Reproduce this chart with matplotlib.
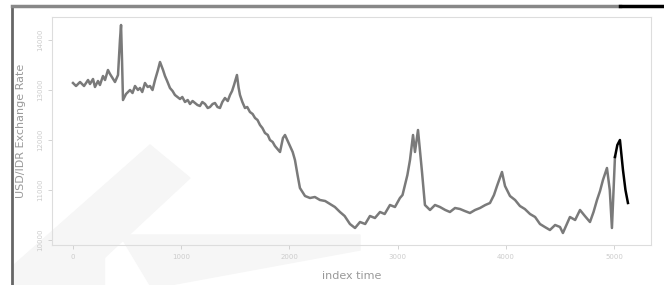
import matplotlib
matplotlib.use("Agg")
from matplotlib import pyplot as plt
from matplotlib.patches import Polygon
from matplotlib.lines import Line2D

# index time and USD/IDR rate
index_time = [0, 28, 65, 102, 139, 157, 185, 203, 231, 249, 277, 296, 323, 342, 370, 388,
              416, 434, 444, 453, 462, 490, 527, 550, 573, 600, 619, 640, 665, 690, 711, 735,
              758, 785, 804, 832, 850, 870, 896, 920, 942, 965, 989, 1010, 1035, 1060, 1081,
              1105, 1127, 1150, 1173, 1195, 1220, 1245, 1266, 1290, 1312, 1335, 1358, 1380,
              1404, 1430, 1451, 1470, 1488, 1515, 1530, 1543, 1565, 1589, 1610, 1635, 1660,
              1682, 1705, 1728, 1750, 1774, 1800, 1820, 1845, 1866, 1890, 1913, 1940, 1959,
              1980, 2005, 2030, 2051, 2075, 2097, 2120, 2144, 2190, 2235, 2282, 2330, 2375,
              2420, 2467, 2510, 2559, 2606, 2652, 2700, 2744, 2790, 2837, 2880, 2929, 2975,
              3021, 3045, 3068, 3090, 3114, 3142, 3160, 3188, 3225, 3252, 3299, 3345, 3391,
              3440, 3483, 3530, 3576, 3620, 3668, 3715, 3761, 3810, 3853, 3890, 3918, 3964,
              3992, 4038, 4085, 4130, 4175, 4223, 4270, 4315, 4360, 4407, 4455, 4500, 4527,
              4560, 4592, 4640, 4685, 4730, 4777, 4810, 4842, 4870, 4897, 4934, 4960, 4980,
              5008]
rate = [13140, 13080, 13160, 13080, 13200, 13120, 13220, 13060, 13180, 13100, 13280, 13200,
        13400, 13320, 13220, 13160, 13300, 14000, 14300, 13600, 12800, 12920, 13000, 12940,
        13080, 13000, 13040, 12960, 13140, 13060, 13080, 13000, 13200, 13400, 13560, 13400,
        13280, 13180, 13040, 12980, 12900, 12860, 12820, 12860, 12760, 12800, 12720, 12780,
        12740, 12700, 12680, 12760, 12720, 12640, 12660, 12720, 12740, 12660, 12640, 12760,
        12840, 12780, 12900, 12980, 13100, 13300, 13050, 12900, 12760, 12640, 12660, 12560,
        12520, 12440, 12400, 12300, 12240, 12140, 12100, 12000, 11960, 11880, 11820, 11760,
        12040, 12100, 12000, 11880, 11760, 11600, 11300, 11040, 10960, 10880, 10840, 10860,
        10800, 10780, 10720, 10660, 10560, 10480, 10320, 10240, 10360, 10320, 10480, 10440,
        10560, 10520, 10700, 10660, 10840, 10900, 11100, 11300, 11600, 12100, 11760, 12200,
        11360, 10700, 10600, 10700, 10660, 10600, 10560, 10640, 10620, 10580, 10540, 10600,
        10640, 10700, 10740, 10900, 11080, 11360, 11080, 10880, 10800, 10680, 10620, 10520,
        10460, 10320, 10260, 10200, 10300, 10260, 10140, 10300, 10460, 10400, 10600, 10480,
        10360, 10560, 10800, 10980, 11200, 11440, 11000, 10240, 11660]
# last stretch drawn in black
index_tail = [5008, 5030, 5054, 5068, 5082, 5105, 5128]
rate_tail = [11660, 11900, 12000, 11700, 11400, 11000, 10740]

x_ticks = [0, 1000, 2000, 3000, 4000, 5000]
y_ticks = [10000, 11000, 12000, 13000, 14000]

fig = plt.figure(figsize=(6.64, 2.85), dpi=100)
W, H = 664, 285

def px(x, y):
    return (x / W, 1 - y / H)

# faint watermark shapes
for pts in [[(14, 285), (14, 265), (150, 145), (190, 178), (75, 285)],
            [(120, 235), (360, 235), (360, 250), (170, 285), (150, 285)],
            [(68, 250), (104, 250), (104, 285), (68, 285)]]:
    fig.patches.append(Polygon([px(*p) for p in pts], closed=True, transform=fig.transFigure,
                               color="#f6f6f6", zorder=-1))

# page frame lines
fig.lines.append(Line2D([12 / W, 12 / W], [1 - 6 / H, 0], transform=fig.transFigure, color="#666666", lw=2))
fig.lines.append(Line2D([12 / W, 620 / W], [1 - 6 / H, 1 - 6 / H], transform=fig.transFigure, color="#888888", lw=2.5))
fig.lines.append(Line2D([620 / W, 1], [1 - 6 / H, 1 - 6 / H], transform=fig.transFigure, color="black", lw=2.5))

ax = fig.add_axes([52 / W, 1 - 245 / H, (651 - 52) / W, (245 - 17) / H])
ax.set_zorder(1)
ax.patch.set_alpha(0)
ax.plot(index_time, rate, color="#7a7a7a", lw=1.8)
ax.plot(index_tail, rate_tail, color="black", lw=1.8)

ax.set_xlim(-194, 5341)
ax.set_ylim(9900, 14460)
ax.set_xticks(x_ticks)
ax.set_yticks(y_ticks)
ax.set_xticklabels([str(v) for v in x_ticks], fontsize=5, color="#bbbbbb")
ax.set_yticklabels([str(v) for v in y_ticks], fontsize=5, color="#bbbbbb", rotation=90, va="center")
ax.tick_params(colors="#cccccc", length=3, width=0.6)
for s in ax.spines.values():
    s.set_color("#dddddd")
    s.set_linewidth(0.8)
ax.set_xlabel("index time", fontsize=8, color="#999999", labelpad=8)
ax.set_ylabel("USD/IDR Exchange Rate", fontsize=8, color="#999999", labelpad=8)

fig.savefig("out.png", dpi=100)
